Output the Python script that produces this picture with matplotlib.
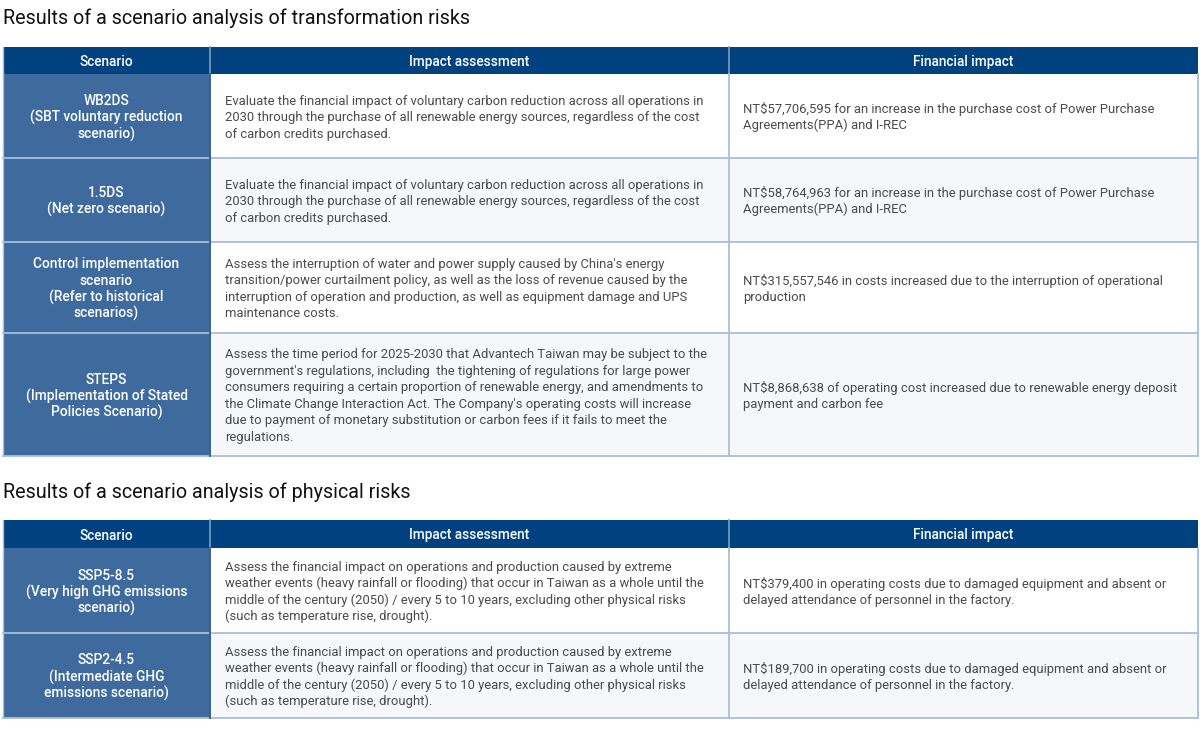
import matplotlib
matplotlib.use("Agg")
import matplotlib.pyplot as plt
from matplotlib.patches import Rectangle
from matplotlib import font_manager

plt.rcParams['font.family'] = ['Roboto', 'DejaVu Sans']

titles = ["Results of a scenario analysis of transformation risks",
          "Results of a scenario analysis of physical risks"]
headers = ["Scenario", "Impact assessment", "Financial impact"]

t1_scenarios = [
    ["WB2DS", "(SBT voluntary reduction", "scenario)"],
    ["1.5DS", "(Net zero scenario)"],
    ["Control implementation", "scenario", "(Refer to historical", "scenarios)"],
    ["STEPS", "(Implementation of Stated", "Policies Scenario)"],
]
t1_assessments = [
    ["Evaluate the financial impact of voluntary carbon reduction across all operations in",
     "2030 through the purchase of all renewable energy sources, regardless of the cost",
     "of carbon credits purchased."],
    ["Evaluate the financial impact of voluntary carbon reduction across all operations in",
     "2030 through the purchase of all renewable energy sources, regardless of the cost",
     "of carbon credits purchased."],
    ["Assess the interruption of water and power supply caused by China's energy",
     "transition/power curtailment policy, as well as the loss of revenue caused by the",
     "interruption of operation and production, as well as equipment damage and UPS",
     "maintenance costs."],
    ["Assess the time period for 2025-2030 that Advantech Taiwan may be subject to the",
     "government's regulations, including  the tightening of regulations for large power",
     "consumers requiring a certain proportion of renewable energy, and amendments to",
     "the Climate Change Interaction Act. The Company's operating costs will increase",
     "due to payment of monetary substitution or carbon fees if it fails to meet the",
     "regulations."],
]
t1_financial = [
    ["NT$57,706,595 for an increase in the purchase cost of Power Purchase",
     "Agreements(PPA) and I-REC"],
    ["NT$58,764,963 for an increase in the purchase cost of Power Purchase",
     "Agreements(PPA) and I-REC"],
    ["NT$315,557,546 in costs increased due to the interruption of operational",
     "production"],
    ["NT$8,868,638 of operating cost increased due to renewable energy deposit",
     "payment and carbon fee"],
]

t2_scenarios = [
    ["SSP5-8.5", "(Very high GHG emissions", "scenario)"],
    ["SSP2-4.5", "(Intermediate GHG", "emissions scenario)"],
]
phys_text = ["Assess the financial impact on operations and production caused by extreme",
             "weather events (heavy rainfall or flooding) that occur in Taiwan as a whole until the",
             "middle of the century (2050) / every 5 to 10 years, excluding other physical risks",
             "(such as temperature rise, drought)."]
t2_assessments = [phys_text, phys_text]
t2_financial = [
    ["NT$379,400 in operating costs due to damaged equipment and absent or",
     "delayed attendance of personnel in the factory."],
    ["NT$189,700 in operating costs due to damaged equipment and absent or",
     "delayed attendance of personnel in the factory."],
]

W, H = 1200, 735
fig = plt.figure(figsize=(W / 100, H / 100), dpi=100)
ax = fig.add_axes([0, 0, 1, 1])
ax.set_xlim(0, W)
ax.set_ylim(H, 0)
ax.axis('off')

HEAD_C = '#00427f'
SCEN_C = '#3e6a9d'
BORDER = '#a8bfd8'
TXT = '#4a4a4a'
PX = 0.72
cols = [3, 210, 729, 1198]
LH = 16.5
DY = 1.5

# pick a non-condensed Roboto Medium if available
med_font = None
for f in font_manager.fontManager.ttflist:
    if f.name == 'Roboto' and f.weight == 500 and f.stretch == 'normal' and f.style == 'normal':
        med_font = f.fname
        break


def lines(x, yc, arr, ha, color, size, medium=False):
    n = len(arr)
    y0 = yc - (n - 1) * LH / 2 + DY
    for i, s in enumerate(arr):
        kw = {}
        if medium and med_font:
            kw['fontproperties'] = font_manager.FontProperties(fname=med_font, size=size * PX)
        else:
            kw['fontsize'] = size * PX
        ax.text(x, y0 + i * LH, s, ha=ha, va='center', color=color, **kw)


def table(title, title_y, head_top, row_edges, scen, assess, fin):
    ax.text(3, title_y, title, ha='left', va='center',
            fontsize=19.8 * PX, color='#111111')
    head_bot = row_edges[0]
    ax.add_patch(Rectangle((cols[0], head_top), cols[-1] - cols[0], head_bot - head_top,
                           facecolor=HEAD_C, edgecolor='none'))
    for j, h in enumerate(headers):
        lines((cols[j] + cols[j + 1]) / 2, (head_top + head_bot) / 2, [h], 'center',
              'white', 13.6, medium=True)
    for c in cols[1:-1]:
        ax.plot([c, c], [head_top, head_bot], color='#7f9fc2', lw=1.2)
    for i in range(len(scen)):
        top, bot = row_edges[i], row_edges[i + 1]
        bg = 'white' if i % 2 == 0 else '#f6f7f8'
        ax.add_patch(Rectangle((cols[0], top), cols[1] - cols[0], bot - top,
                               facecolor=SCEN_C, edgecolor='none'))
        ax.add_patch(Rectangle((cols[1], top), cols[-1] - cols[1], bot - top,
                               facecolor=bg, edgecolor='none'))
        yc = (top + bot) / 2
        lines((cols[0] + cols[1]) / 2, yc, scen[i], 'center', 'white', 13.8, medium=True)
        lines(cols[1] + 15, yc, assess[i], 'left', TXT, 13)
        lines(cols[2] + 14, yc, fin[i], 'left', TXT, 13)
        ax.plot([cols[0], cols[-1]], [bot, bot], color=BORDER, lw=1.3)
    for c in cols[1:]:
        ax.plot([c, c], [row_edges[0], row_edges[-1]], color=BORDER, lw=1.3)
    ax.plot([cols[1], cols[1]], [row_edges[0], row_edges[-1]], color='#2f5a8c', lw=1.3)
    ax.plot([cols[0], cols[0]], [head_top, row_edges[-1]], color=BORDER, lw=1.0)


table(titles[0], 18, 47, [74, 158, 242, 333, 456], t1_scenarios, t1_assessments, t1_financial)
table(titles[1], 492, 520, [548, 633, 718], t2_scenarios, t2_assessments, t2_financial)

fig.savefig('out.png', dpi=100, facecolor='white')
